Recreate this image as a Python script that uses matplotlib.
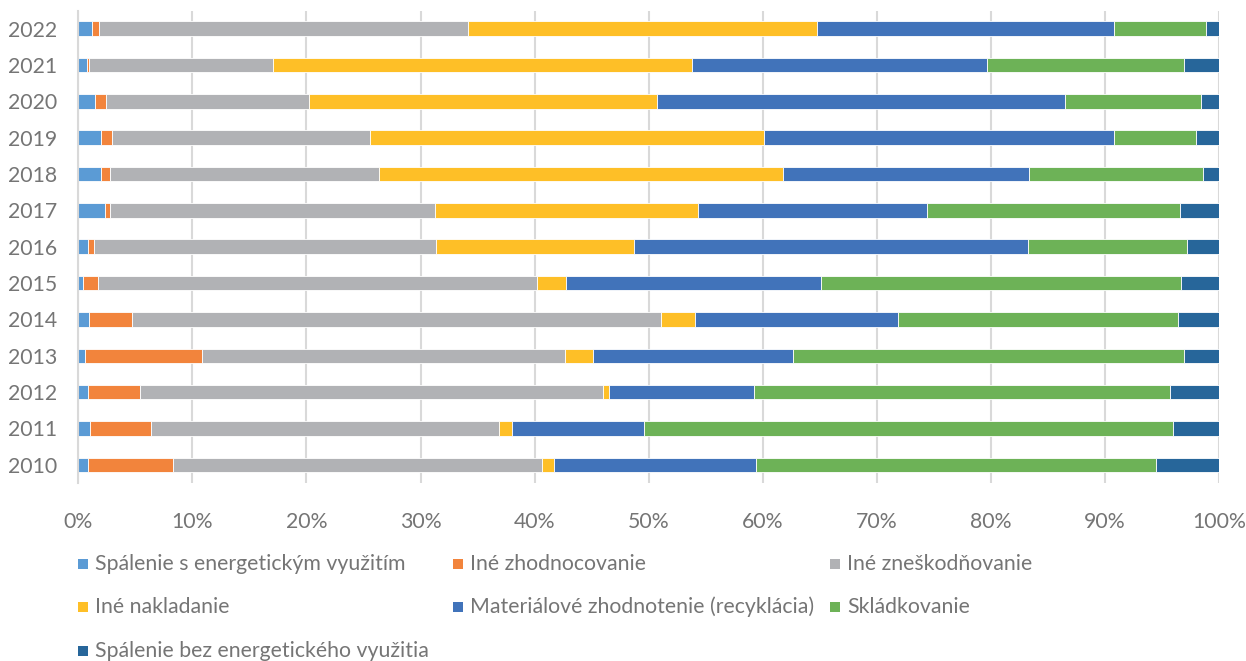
import matplotlib
matplotlib.use("Agg")
import matplotlib.pyplot as plt
from matplotlib.patches import Rectangle
import numpy as np

years = ["2010", "2011", "2012", "2013", "2014", "2015", "2016",
         "2017", "2018", "2019", "2020", "2021", "2022"]

series_names = [
    "Spálenie s energetickým využitím",
    "Iné zhodnocovanie",
    "Iné zneškodňovanie",
    "Iné nakladanie",
    "Materiálové zhodnotenie (recyklácia)",
    "Skládkovanie",
    "Spálenie bez energetického využitia",
]

# values in % per year (2010 ... 2022)
spalenie_energ = [0.80, 1.04, 0.87, 0.57, 0.94, 0.37, 0.83, 2.35, 1.97, 1.97, 1.47, 0.77, 1.20]
ine_zhodnoc = [7.49, 5.34, 4.50, 10.27, 3.73, 1.31, 0.54, 0.43, 0.81, 0.98, 0.98, 0.13, 0.60]
ine_zneskod = [32.36, 30.48, 40.63, 31.86, 46.43, 38.57, 30.03, 28.52, 23.62, 22.65, 17.75, 16.20, 32.40]
ine_naklad = [1.05, 1.14, 0.50, 2.40, 3.00, 2.55, 17.30, 23.00, 35.35, 34.50, 30.50, 36.70, 30.60]
recyklacia = [17.70, 11.60, 12.70, 17.60, 17.80, 22.30, 34.60, 20.10, 21.65, 30.70, 35.80, 25.90, 26.00]
skladkovanie = [35.05, 46.39, 36.50, 34.26, 24.55, 31.60, 13.90, 22.20, 15.20, 7.20, 11.90, 17.26, 8.05]
spalenie_bez = [5.55, 4.01, 4.30, 3.04, 3.55, 3.30, 2.80, 3.40, 1.40, 2.00, 1.60, 3.04, 1.15]

series_values = [spalenie_energ, ine_zhodnoc, ine_zneskod, ine_naklad,
                 recyklacia, skladkovanie, spalenie_bez]
colors = ["#5B9BD5", "#F2843C", "#B1B2B5", "#FEBF27", "#4173BA", "#6DB257", "#27669A"]

x_ticks = [0, 10, 20, 30, 40, 50, 60, 70, 80, 90, 100]
x_ticklabels = [f"{t}%" for t in x_ticks]

plt.rcParams['font.family'] = ['Lato', 'DejaVu Sans']
text_color = "#757575"
grid_color = "#D9D9D9"
fs = 15.3

W, H = 1246, 661
fig = plt.figure(figsize=(W / 100, H / 100), dpi=100)
ax_left, ax_right = 78.4, 1218.8
ax_top, ax_bottom = 10.5, 483.0
ax = fig.add_axes([ax_left / W, 1 - ax_bottom / H, (ax_right - ax_left) / W, (ax_bottom - ax_top) / H])

data = np.array(series_values, dtype=float)
totals = data.sum(axis=0)
pct = data / totals * 100.0
ypos = np.arange(len(years))
left = np.zeros(len(years))
for vals, col, name in zip(pct, colors, series_names):
    ax.barh(ypos, vals, left=left, height=0.4, color=col, edgecolor="white",
            linewidth=0.6, label=name, zorder=3)
    left += vals

ax.set_xlim(0, 100)
ax.set_ylim(-0.5, len(years) - 0.5)
ax.set_yticks(ypos)
ax.set_yticklabels(years)
ax.set_xticks(x_ticks)
ax.set_xticklabels(x_ticklabels)
ax.tick_params(axis="x", length=0, pad=21, labelsize=fs, labelcolor=text_color)
ax.tick_params(axis="y", length=0, pad=15, labelsize=fs, labelcolor=text_color)
ax.grid(axis="x", color=grid_color, linewidth=1.5, zorder=0)
for s in ["top", "right", "bottom"]:
    ax.spines[s].set_visible(False)
ax.spines["left"].set_color(grid_color)
ax.spines["left"].set_linewidth(1.5)
ax.spines["left"].set_zorder(4)

# legend (three columns, Excel style)
col_x = [78, 453, 830]
row_y = [564, 607, 651]
msize = 10
for i, (name, col) in enumerate(zip(series_names, colors)):
    r, c = divmod(i, 3)
    mx, my = col_x[c], row_y[r]
    fig.add_artist(Rectangle((mx / W, 1 - (my + msize / 2) / H), msize / W, msize / H,
                             transform=fig.transFigure, facecolor=col, edgecolor="none"))
    fig.text((mx + 17) / W, 1 - my / H, name, ha="left", va="center",
             fontsize=fs, color=text_color)

fig.savefig("out.png", dpi=100)
